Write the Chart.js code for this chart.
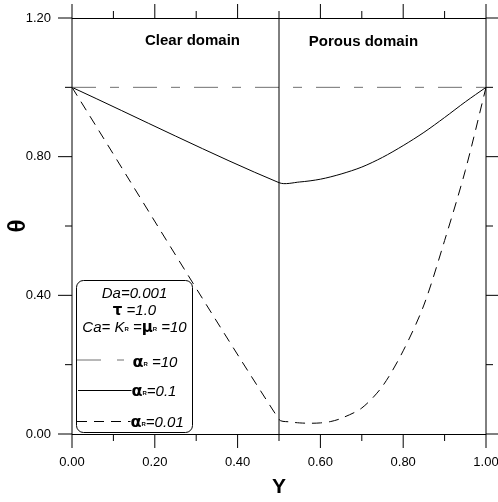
<!DOCTYPE html>
<html>
<head>
<meta charset="utf-8">
<script src="https://cdn.jsdelivr.net/npm/chart.js@4.4.0/dist/chart.umd.min.js"></script>
<style>
  html, body { margin: 0; padding: 0; background: #fff; }
  #chart { display: block; }
</style>
</head>
<body>
<canvas id="chart" width="498" height="502"></canvas>
<script>
// axis ticks
const xMajor = [0, 0.2, 0.4, 0.6, 0.8, 1.0];
const xMinor = [0.1, 0.3, 0.5, 0.7, 0.9];
const yMajor = [0, 0.4, 0.8, 1.2];
const yMinor = [0.2, 0.6, 1.0];

// interface between clear and porous domain
const interfaceY = 0.5;

// alpha_R = 10
const posAlpha10 = [0, 1];
const thetaAlpha10 = [1, 1];

// alpha_R = 0.1
const posAlpha01 = [0, 0.5, 0.55, 0.6, 0.65, 0.7, 0.75, 0.8, 0.85, 0.9, 0.95, 1];
const thetaAlpha01 = [1, 0.725, 0.727, 0.735, 0.750, 0.770, 0.798, 0.832, 0.870, 0.913, 0.958, 1.0];

// alpha_R = 0.01
const posAlpha001 = [0, 0.5, 0.525, 0.55, 0.575, 0.6, 0.625, 0.65, 0.7, 0.75, 0.8, 0.85, 0.9, 0.95, 1];
const thetaAlpha001 = [1, 0.042, 0.035, 0.032, 0.031, 0.032, 0.036, 0.045, 0.075, 0.138, 0.24, 0.372, 0.558, 0.76, 1.0];

const toPoints = (xs, ys) => xs.map((v, i) => ({ x: v, y: ys[i] }));

const SANS = '"Liberation Sans", Arial, sans-serif';
const GREEK = '"DejaVu Sans", sans-serif';
const IT = `italic 15px ${SANS}`;
const SUB = `bold 6px ${SANS}`;

function strokeLine(ctx, x1, y1, x2, y2) {
    ctx.beginPath();
    ctx.moveTo(x1, y1);
    ctx.lineTo(x2, y2);
    ctx.stroke();
}

// draws a row of text pieces with different fonts one after the other
function drawRuns(ctx, runs, x, baseline, centered) {
    const widths = runs.map(r => { ctx.font = r.font; return ctx.measureText(r.t).width; });
    const total = widths.reduce((s, w) => s + w, 0);
    let cx = centered ? x - total / 2 : x;
    runs.forEach((r, i) => {
        ctx.font = r.font;
        ctx.fillText(r.t, cx, baseline + (r.dy || 0));
        cx += widths[i];
    });
}

// keep the plot box fixed, labels may hang over the edges
function noScalePadding(s) {
    s.paddingLeft = 0;
    s.paddingRight = 0;
    s.paddingTop = 0;
    s.paddingBottom = 0;
}

const framePlugin = {
    id: 'frame',
    afterDatasetsDraw(chart) {
        const { ctx, chartArea: a, scales: { x, y } } = chart;
        ctx.save();
        ctx.strokeStyle = '#000';
        ctx.fillStyle = '#000';
        ctx.lineWidth = 1;
        ctx.setLineDash([]);

        // interface line
        const xi = x.getPixelForValue(interfaceY);
        strokeLine(ctx, xi, a.top, xi, a.bottom);

        // frame
        strokeLine(ctx, a.left, a.top, a.left, a.bottom);
        strokeLine(ctx, a.right, a.top, a.right, a.bottom);
        strokeLine(ctx, a.left, a.top + 0.5, a.right, a.top + 0.5);
        strokeLine(ctx, a.left, a.bottom + 0.5, a.right, a.bottom + 0.5);

        // tick marks on all four sides, pointing outward
        const xTicks = (vals, len) => vals.forEach(v => {
            const px = x.getPixelForValue(v);
            strokeLine(ctx, px, a.bottom, px, a.bottom + len);
            strokeLine(ctx, px, a.top, px, a.top - len);
        });
        const yTicks = (vals, len) => vals.forEach(v => {
            const py = y.getPixelForValue(v);
            strokeLine(ctx, a.left - len, py, a.left, py);
            strokeLine(ctx, a.right, py, a.right + len, py);
        });
        xTicks(xMajor, 14);
        xTicks(xMinor, 7);
        yTicks(yMajor, 14);
        yTicks(yMinor, 7);

        // domain labels
        ctx.textAlign = 'center';
        ctx.textBaseline = 'alphabetic';
        ctx.font = `bold 15px ${SANS}`;
        ctx.fillText('Clear domain', x.getPixelForValue(0.291), a.top + 27);
        ctx.fillText('Porous domain', x.getPixelForValue(0.704), a.top + 28);

        // legend box
        ctx.textAlign = 'left';
        const bx = a.left + 4.5, by = a.bottom - 153.5, bw = 116, bh = 152;
        ctx.beginPath();
        ctx.roundRect(bx, by, bw, bh, 7);
        ctx.stroke();

        const cx = bx + bw / 2;
        drawRuns(ctx, [{ t: 'Da=0.001', font: IT }], cx, by + 17, true);
        drawRuns(ctx, [
            { t: 'τ', font: `bold 15px ${GREEK}` },
            { t: ' =1.0', font: IT }
        ], cx, by + 34, true);
        drawRuns(ctx, [
            { t: 'Ca= K', font: IT },
            { t: 'R', font: SUB, dy: -1 },
            { t: ' =', font: IT },
            { t: 'μ', font: `bold 15px ${GREEK}` },
            { t: 'R', font: SUB, dy: -1 },
            { t: ' =10', font: IT }
        ], cx, by + 51, true);

        const alpha = `bold 16px ${GREEK}`;
        // alpha_R = 10
        ctx.strokeStyle = '#707070';
        ctx.setLineDash([24, 16, 7, 16]);
        strokeLine(ctx, bx + 0.5, by + 79.5, bx + 49, by + 79.5);
        drawRuns(ctx, [
            { t: 'α', font: alpha }, { t: 'R', font: SUB, dy: -1 }, { t: ' =10', font: IT }
        ], bx + 56, by + 86, false);
        // alpha_R = 0.1
        ctx.strokeStyle = '#000';
        ctx.setLineDash([]);
        strokeLine(ctx, bx + 1.5, by + 110, bx + 55, by + 110);
        drawRuns(ctx, [
            { t: 'α', font: alpha }, { t: 'R', font: SUB, dy: -1 }, { t: '=0.1', font: IT }
        ], bx + 55, by + 115.5, false);
        // alpha_R = 0.01
        ctx.setLineDash([10, 7]);
        strokeLine(ctx, bx + 0.5, by + 141, bx + 54, by + 141);
        drawRuns(ctx, [
            { t: 'α', font: alpha }, { t: 'R', font: SUB, dy: -1 }, { t: '=0.01', font: IT }
        ], bx + 54, by + 146.5, false);

        ctx.restore();
    }
};

new Chart(document.getElementById('chart'), {
    type: 'line',
    data: {
        datasets: [
            {
                label: 'αR =10',
                data: toPoints(posAlpha10, thetaAlpha10),
                borderColor: '#707070',
                borderWidth: 1,
                borderDash: [24, 14, 9, 14],
                pointRadius: 0,
                tension: 0
            },
            {
                label: 'αR=0.1',
                data: toPoints(posAlpha01, thetaAlpha01),
                borderColor: '#000',
                borderWidth: 1,
                pointRadius: 0,
                tension: 0.3
            },
            {
                label: 'αR=0.01',
                data: toPoints(posAlpha001, thetaAlpha001),
                borderColor: '#000',
                borderWidth: 1,
                borderDash: [10, 7],
                pointRadius: 0,
                tension: 0.3
            }
        ]
    },
    options: {
        responsive: false,
        animation: false,
        layout: { padding: { top: 18, right: 12, left: 0, bottom: 0 } },
        plugins: { legend: { display: false }, tooltip: { enabled: false } },
        scales: {
            x: {
                type: 'linear', min: 0, max: 1,
                afterBuildTicks: s => { s.ticks = xMajor.map(v => ({ value: v })); },
                afterFit: s => { s.height = 68; noScalePadding(s); },
                ticks: {
                    callback: v => v.toFixed(2), padding: 21, color: '#000',
                    autoSkip: false, maxRotation: 0,
                    font: { family: SANS, size: 13 }
                },
                grid: { display: false, drawTicks: false },
                border: { display: false },
                title: {
                    display: true, text: 'Y', color: '#000',
                    font: { family: SANS, size: 21, weight: 'bold' },
                    padding: { top: 0, bottom: 2 }
                }
            },
            y: {
                type: 'linear', min: 0, max: 1.2,
                afterBuildTicks: s => { s.ticks = yMajor.map(v => ({ value: v })); },
                afterFit: s => { s.width = 72; noScalePadding(s); },
                ticks: {
                    callback: v => v.toFixed(2), padding: 21, color: '#000',
                    autoSkip: false,
                    font: { family: SANS, size: 13 }
                },
                grid: { display: false, drawTicks: false },
                border: { display: false },
                title: {
                    display: true, text: 'θ', color: '#000',
                    font: { family: SANS, size: 24, weight: 'bold' },
                    padding: { top: 4, bottom: 4 }
                }
            }
        }
    },
    plugins: [framePlugin]
});
</script>
</body>
</html>
